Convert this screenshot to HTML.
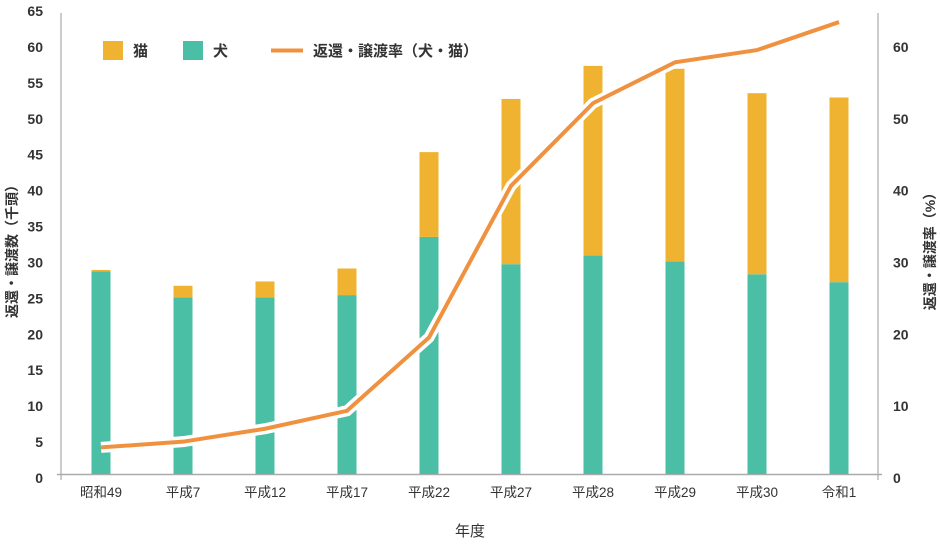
<!DOCTYPE html>
<html><head><meta charset="utf-8"><style>
body{margin:0;background:#fff;}
svg text{font-family:"Liberation Sans","Noto Sans CJK JP",sans-serif;fill:#333;}
</style></head><body>
<svg width="940" height="541" viewBox="0 0 940 541" xmlns="http://www.w3.org/2000/svg">
<g id="axes"></g><g id="bars"></g><g id="line"></g>
<g>
 <rect x="103" y="41" width="20" height="19" fill="#EFB331"/>
 <text x="133" y="56" font-size="15" font-weight="bold">猫</text>
 <rect x="183" y="41" width="20" height="19" fill="#4BBFA6"/>
 <text x="213" y="56" font-size="15" font-weight="bold">犬</text>
 <line x1="271" y1="50.5" x2="303" y2="50.5" stroke="#F0913F" stroke-width="4"/>
 <text x="313" y="56" font-size="15" font-weight="bold">返還・譲渡率（犬・猫）</text>
</g>
<text x="470" y="536" font-size="15" text-anchor="middle">年度</text>
<text transform="translate(17,248) rotate(-90)" font-size="14" font-weight="bold" text-anchor="middle">返還・譲渡数（千頭）</text>
<text transform="translate(935,248) rotate(-90)" font-size="14" font-weight="bold" text-anchor="middle">返還・譲渡率（%）</text>
</svg>
<script>
const categories=["昭和49","平成7","平成12","平成17","平成22","平成27","平成28","平成29","平成30","令和1"];
const dogValues=[28.2,24.6,24.6,24.9,33.0,29.2,30.4,29.6,27.8,26.7];
const catValues=[0.2,1.6,2.2,3.7,11.8,23.0,26.4,26.8,25.2,25.7];
const rateValues=[3.7,4.5,6.3,8.8,19.0,40.1,51.6,57.3,59.0,62.9];
const leftTicks=[0,5,10,15,20,25,30,35,40,45,50,55,60,65];
const rightTicks=[0,10,20,30,40,50,60];
const NS="http://www.w3.org/2000/svg";
const y0=474,pu=7.185;
function yS(v){return y0-v*pu;}
function xS(i){return 101+i*82;}
function mk(t,a,p){const e=document.createElementNS(NS,t);for(const k in a)e.setAttribute(k,a[k]);p.appendChild(e);return e;}
const ax=document.getElementById('axes');
let l=mk('line',{x1:61,y1:13,x2:61,y2:480,stroke:'#ccc','stroke-width':2},ax);


l=mk('line',{x1:878,y1:13,x2:878,y2:480,stroke:'#ccc','stroke-width':2},ax);


l=mk('line',{x1:57,y1:y0+0.5,x2:882,y2:y0+0.5,stroke:'#aaa','stroke-width':1.5},ax);


leftTicks.forEach(v=>{const t=mk('text',{x:43,y:yS(v)+9,'font-size':14,'font-weight':'bold','text-anchor':'end'},ax);t.textContent=v;

});
rightTicks.forEach(v=>{const t=mk('text',{x:893,y:yS(v)+9,'font-size':14,'font-weight':'bold'},ax);t.textContent=v;

});
categories.forEach((c,i)=>{const t=mk('text',{x:xS(i),y:497,'font-size':13.5,'text-anchor':'middle'},ax);t.textContent=c;

});
const bg=document.getElementById('bars');
categories.forEach((c,i)=>{
 const d=mk('rect',{x:xS(i)-9.5,y:yS(dogValues[i]),width:19,height:dogValues[i]*pu,fill:'#4BBFA6'},bg);
 
 
 const k=mk('rect',{x:xS(i)-9.5,y:yS(dogValues[i]+catValues[i]),width:19,height:catValues[i]*pu,fill:'#EFB331'},bg);
 
 
});
const lg=document.getElementById('line');
const pts=rateValues.map((v,i)=>xS(i)+','+yS(v)).join(' ');
const h=mk('polyline',{points:pts,fill:'none',stroke:'#fff','stroke-width':11,'stroke-linejoin':'miter'},lg);


const p=mk('polyline',{points:pts,fill:'none',stroke:'#F0913F','stroke-width':4,'stroke-linejoin':'miter'},lg);


</script>
</body></html>
